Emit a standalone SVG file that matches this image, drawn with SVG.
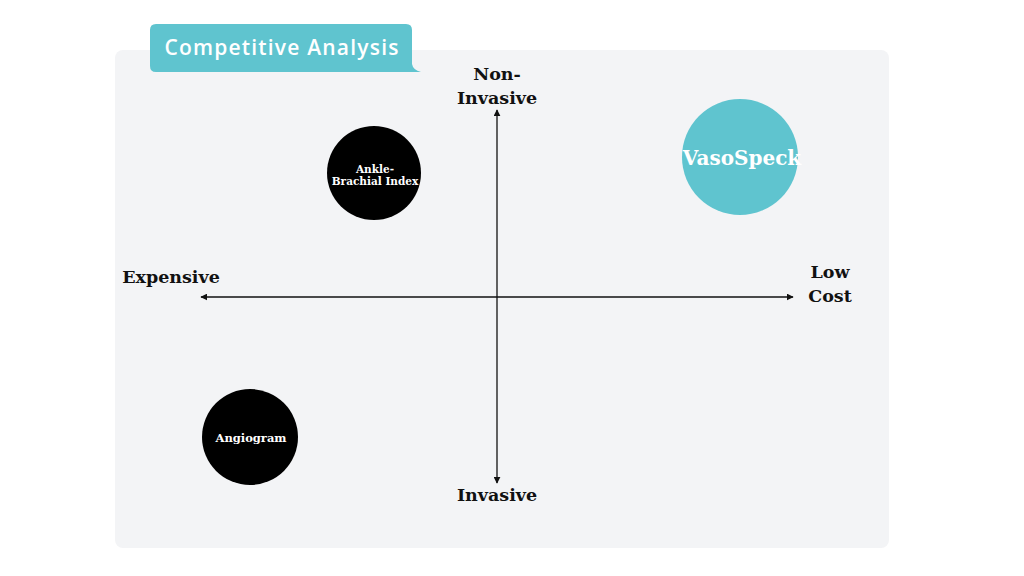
<svg xmlns="http://www.w3.org/2000/svg" width="1024" height="576" viewBox="0 0 1024 576">
<defs>
<style>
.lbl{font-family:"DejaVu Serif","Liberation Serif",serif;font-weight:bold;font-size:17.5px;fill:#111;text-anchor:middle}
.node{font-family:"DejaVu Serif","Liberation Serif",serif;font-weight:bold;fill:#fff;text-anchor:middle}
.ax{stroke:#111;stroke-width:1.3;fill:none}
</style>
<marker id="ah" viewBox="0 0 10 10" refX="9" refY="5" markerWidth="7" markerHeight="7" orient="auto-start-reverse" markerUnits="userSpaceOnUse">
<path d="M0,0 L10,5 L0,10 Z" fill="#111"/>
</marker>
</defs>
<rect width="1024" height="576" fill="#fff"/>
<rect id="panel" x="115" y="50" width="774" height="498" rx="8" fill="#f3f4f6"/>
<g id="title">
<path d="M156,24 H406 Q412,24 412,30 V64 Q413,70 421,72 H156 Q150,72 150,66 V30 Q150,24 156,24 Z" fill="#5fc4cf"/>
<text x="282" y="55" font-family="'Open Sans',Lato,sans-serif" font-weight="600" font-size="21" letter-spacing="1.2" fill="#fff" text-anchor="middle">Competitive Analysis</text>
</g>
<g id="connectors">
<line class="ax" x1="201" y1="297" x2="793" y2="297" marker-start="url(#ah)" marker-end="url(#ah)"/>
<line class="ax" x1="497" y1="110" x2="497" y2="483" marker-start="url(#ah)" marker-end="url(#ah)"/>
</g>
<g id="axis-labels">
<text class="lbl" x="497" y="80">Non-</text>
<text class="lbl" x="497" y="104">Invasive</text>
<text class="lbl" x="171" y="283">Expensive</text>
<text class="lbl" x="830" y="278">Low</text>
<text class="lbl" x="830" y="302">Cost</text>
<text class="lbl" x="497" y="501">Invasive</text>
</g>
<g id="abi">
<circle cx="374" cy="173" r="47" fill="#000"/>
<text class="node" x="375" y="173" font-size="10.5">Ankle-</text>
<text class="node" x="375" y="185" font-size="10.5">Brachial Index</text>
</g>
<g id="vasospeck">
<circle cx="740" cy="157" r="58" fill="#5fc4cf"/>
<text class="node" x="742" y="165" font-size="20">VasoSpeck</text>
</g>
<g id="angiogram">
<circle cx="250" cy="437" r="48" fill="#000"/>
<text class="node" x="251" y="442" font-size="11.5">Angiogram</text>
</g>
</svg>
